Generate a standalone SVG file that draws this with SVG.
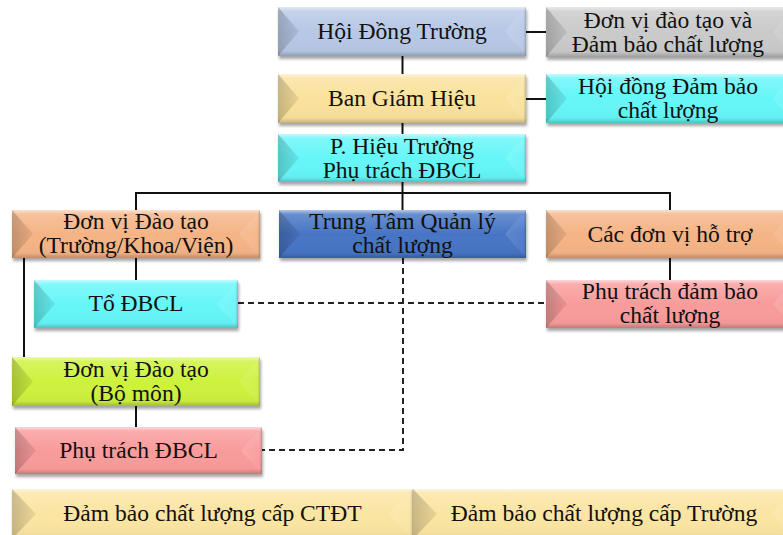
<svg xmlns="http://www.w3.org/2000/svg" width="783" height="535" viewBox="0 0 783 535">
  <defs>
    <filter id="shadow" x="-5%" y="-10%" width="112%" height="140%">
      <feDropShadow dx="1" dy="3" stdDeviation="1.6" flood-color="#000" flood-opacity="0.35"/>
    </filter>
    <!-- vertical sheen: light top edge, darker bottom edge -->
    <linearGradient id="sheen" x1="0" y1="0" x2="0" y2="1">
      <stop offset="0" stop-color="#fff" stop-opacity="0.6"/>
      <stop offset="0.09" stop-color="#fff" stop-opacity="0.18"/>
      <stop offset="0.5" stop-color="#fff" stop-opacity="0"/>
      <stop offset="0.9" stop-color="#000" stop-opacity="0.03"/>
      <stop offset="1" stop-color="#000" stop-opacity="0.22"/>
    </linearGradient>
    <linearGradient id="lshade" x1="0" y1="0" x2="1" y2="0">
      <stop offset="0" stop-color="#000" stop-opacity="0.2"/>
      <stop offset="1" stop-color="#000" stop-opacity="0.07"/>
    </linearGradient>
    <linearGradient id="rshade" x1="0" y1="0" x2="1" y2="0">
      <stop offset="0" stop-color="#fff" stop-opacity="0.14"/>
      <stop offset="0.85" stop-color="#fff" stop-opacity="0.05"/>
      <stop offset="1" stop-color="#000" stop-opacity="0.22"/>
    </linearGradient>
  </defs>
  <style>
    .box { filter: url(#shadow); }
    .sheen { fill: url(#sheen); }
    .lbev { fill: url(#lshade); }
    .rbev { fill: url(#rshade); }
    text { font-family: "Liberation Serif", "Times New Roman", serif; font-size: 23.6px; fill: #111; text-anchor: middle; }
    .link { stroke: #111; stroke-width: 2; fill: none; }
    .dash { stroke: #222; stroke-width: 2; fill: none; stroke-dasharray: 6 4; }
  </style>

  <rect width="783" height="535" fill="#fff"/>

  <!-- connectors -->
  <g id="connectors">
    <line class="link" x1="402.5" y1="56" x2="402.5" y2="74"/>
    <line class="link" x1="526" y1="32" x2="546" y2="32"/>
    <line class="link" x1="526" y1="99" x2="546" y2="99"/>
    <line class="link" x1="402.5" y1="123" x2="402.5" y2="134"/>
    <line class="link" x1="402.5" y1="182" x2="402.5" y2="210"/>
    <polyline class="link" points="136,210 136,193 670,193 670,210"/>
    <line class="link" x1="136" y1="258" x2="136" y2="280"/>
    <line class="link" x1="24" y1="258" x2="24" y2="357"/>
    <line class="link" x1="670" y1="258" x2="670" y2="280"/>
    <line class="link" x1="136" y1="406" x2="136" y2="427"/>
    <line class="dash" x1="238" y1="303" x2="546" y2="303"/>
    <polyline class="dash" points="403,258 403,450 262,450"/>
  </g>

  <!-- Hội Đồng Trường -->
  <g id="n-hoi-dong-truong" transform="translate(278,7)">
    <rect class="box" width="248" height="49" fill="#b7c8e6"/>
    <rect class="sheen" width="248" height="49"/>
    <path class="lbev" d="M0 0 L21 24.5 L0 49Z"/>
    <path class="rbev" d="M248 0 L227 24.5 L248 49Z"/>
    <text x="124" y="32">Hội Đồng Trường</text>
  </g>

  <!-- Đơn vị đào tạo và Đảm bảo chất lượng -->
  <g id="n-don-vi-dao-tao-dbcl" transform="translate(546,7)">
    <rect class="box" width="248" height="50" fill="#cacaca"/>
    <rect class="sheen" width="248" height="50"/>
    <path class="lbev" d="M0 0 L21 25 L0 50Z"/>
    <path class="rbev" d="M248 0 L227 25 L248 50Z"/>
    <text x="122" y="21">Đơn vị đào tạo và</text>
    <text x="122" y="45">Đảm bảo chất lượng</text>
  </g>

  <!-- Ban Giám Hiệu -->
  <g id="n-ban-giam-hieu" transform="translate(278,74)">
    <rect class="box" width="248" height="49" fill="#fae29c"/>
    <rect class="sheen" width="248" height="49"/>
    <path class="lbev" d="M0 0 L21 24.5 L0 49Z"/>
    <path class="rbev" d="M248 0 L227 24.5 L248 49Z"/>
    <text x="124" y="32">Ban Giám Hiệu</text>
  </g>

  <!-- Hội đồng Đảm bảo chất lượng -->
  <g id="n-hoi-dong-dbcl" transform="translate(546,74)">
    <rect class="box" width="248" height="49" fill="#66f6f8"/>
    <rect class="sheen" width="248" height="49"/>
    <path class="lbev" d="M0 0 L21 24.5 L0 49Z"/>
    <path class="rbev" d="M248 0 L227 24.5 L248 49Z"/>
    <text x="122" y="20">Hội đồng Đảm bảo</text>
    <text x="122" y="44">chất lượng</text>
  </g>

  <!-- P. Hiệu Trưởng -->
  <g id="n-pho-hieu-truong" transform="translate(278,134)">
    <rect class="box" width="248" height="48" fill="#66f6f8"/>
    <rect class="sheen" width="248" height="48"/>
    <path class="lbev" d="M0 0 L21 24 L0 48Z"/>
    <path class="rbev" d="M248 0 L227 24 L248 48Z"/>
    <text x="124" y="20">P. Hiệu Trưởng</text>
    <text x="124" y="44">Phụ trách ĐBCL</text>
  </g>

  <!-- Đơn vị Đào tạo (Trường/Khoa/Viện) -->
  <g id="n-don-vi-dao-tao" transform="translate(12,210)">
    <rect class="box" width="248" height="48" fill="#f5b486"/>
    <rect class="sheen" width="248" height="48"/>
    <path class="lbev" d="M0 0 L21 24 L0 48Z"/>
    <path class="rbev" d="M248 0 L227 24 L248 48Z"/>
    <text x="124" y="19">Đơn vị Đào tạo</text>
    <text x="124" y="43">(Trường/Khoa/Viện)</text>
  </g>

  <!-- Trung Tâm Quản lý chất lượng -->
  <g id="n-trung-tam" transform="translate(279,210)">
    <rect class="box" width="247" height="48" fill="#4674c5"/>
    <rect class="sheen" width="247" height="48"/>
    <path class="lbev" d="M0 0 L21 24 L0 48Z"/>
    <path class="rbev" d="M247 0 L226 24 L247 48Z"/>
    <text x="123.5" y="19">Trung Tâm Quản lý</text>
    <text x="123.5" y="43">chất lượng</text>
  </g>

  <!-- Các đơn vị hỗ trợ -->
  <g id="n-cac-don-vi-ho-tro" transform="translate(546,210)">
    <rect class="box" width="248" height="48" fill="#f5b486"/>
    <rect class="sheen" width="248" height="48"/>
    <path class="lbev" d="M0 0 L21 24 L0 48Z"/>
    <path class="rbev" d="M248 0 L227 24 L248 48Z"/>
    <text x="124" y="32">Các đơn vị hỗ trợ</text>
  </g>

  <!-- Tổ ĐBCL -->
  <g id="n-to-dbcl" transform="translate(34,280)">
    <rect class="box" width="204" height="48" fill="#66f6f8"/>
    <rect class="sheen" width="204" height="48"/>
    <path class="lbev" d="M0 0 L21 24 L0 48Z"/>
    <path class="rbev" d="M204 0 L183 24 L204 48Z"/>
    <text x="102" y="31">Tổ ĐBCL</text>
  </g>

  <!-- Phụ trách đảm bảo chất lượng -->
  <g id="n-phu-trach-dam-bao" transform="translate(546,280)">
    <rect class="box" width="248" height="48" fill="#f99b9b"/>
    <rect class="sheen" width="248" height="48"/>
    <path class="lbev" d="M0 0 L21 24 L0 48Z"/>
    <path class="rbev" d="M248 0 L227 24 L248 48Z"/>
    <text x="124" y="19">Phụ trách đảm bảo</text>
    <text x="124" y="43">chất lượng</text>
  </g>

  <!-- Đơn vị Đào tạo (Bộ môn) -->
  <g id="n-bo-mon" transform="translate(12,357)">
    <rect class="box" width="248" height="49" fill="#cdf23c"/>
    <rect class="sheen" width="248" height="49"/>
    <path class="lbev" d="M0 0 L21 24.5 L0 49Z"/>
    <path class="rbev" d="M248 0 L227 24.5 L248 49Z"/>
    <text x="124" y="20">Đơn vị Đào tạo</text>
    <text x="124" y="44">(Bộ môn)</text>
  </g>

  <!-- Phụ trách ĐBCL -->
  <g id="n-phu-trach-dbcl" transform="translate(15,427)">
    <rect class="box" width="247" height="47" fill="#f99b9b"/>
    <rect class="sheen" width="247" height="47"/>
    <path class="lbev" d="M0 0 L21 23.5 L0 47Z"/>
    <path class="rbev" d="M247 0 L226 23.5 L247 47Z"/>
    <text x="123.5" y="31">Phụ trách ĐBCL</text>
  </g>

  <!-- level bars -->
  <g id="n-cap-ctdt" transform="translate(12,489)">
    <rect class="box" width="401" height="50" fill="#fbe5a2"/>
    <rect class="sheen" width="401" height="50"/>
    <path class="lbev" d="M0 0 L24 25 L0 50Z"/>
    <path class="rbev" d="M401 0 L377 25 L401 50Z"/>
    <text x="200.5" y="32">Đảm bảo chất lượng cấp CTĐT</text>
  </g>

  <g id="n-cap-truong" transform="translate(413,489)">
    <rect class="box" width="382" height="50" fill="#fbe5a2"/>
    <rect class="sheen" width="382" height="50"/>
    <path class="lbev" d="M0 0 L24 25 L0 50Z"/>
    <path class="rbev" d="M382 0 L358 25 L382 50Z"/>
    <text x="191" y="32">Đảm bảo chất lượng cấp Trường</text>
  </g>
</svg>
